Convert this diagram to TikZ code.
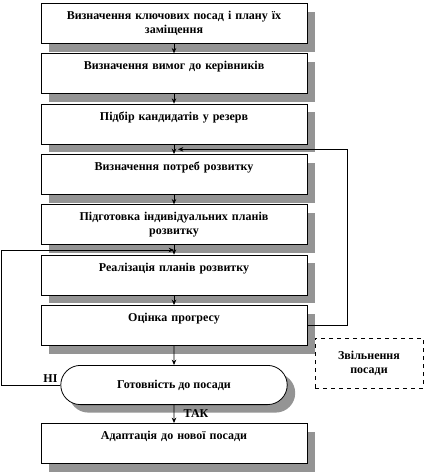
\documentclass[tikz,border=0pt]{standalone}
\usepackage{fontspec}
\setmainfont{Liberation Serif}
\usetikzlibrary{positioning,arrows.meta,calc,shapes.misc,shadows}
\tikzset{
  >={Stealth[length=4pt,width=3.4pt]},
  node distance=7pt,
  shad/.style={drop shadow={shadow xshift=6pt,shadow yshift=-6pt,
    fill=black!42,opacity=1}},
  txt/.style={font=\bfseries\fontsize{9}{10.5}\selectfont},
  stepbox/.style={draw=black,line width=0.75pt,fill=white,shad,txt,
    minimum width=199.5pt,text width=192pt,align=center,inner ysep=3pt,
    text height=9pt,text depth=15pt},
  decide/.style={rounded rectangle,draw=black,line width=0.6pt,fill=white,
    shad,txt,minimum width=176.5pt,minimum height=29.4pt},
  freebox/.style={draw=black,dashed,line width=0.6pt,txt,align=center,
    minimum width=81pt,minimum height=37.5pt},
  link/.style={->,line width=0.6pt},
  back/.style={->,line width=0.6pt},
  yn/.style={txt,inner sep=1pt},
}
\begin{document}
\begin{tikzpicture}[x=0.75pt,y=-0.75pt]
  \useasboundingbox (0,0) rectangle (426,475);
  \node[stepbox,anchor=north] (b1) at (174,3)
    {Визначення ключових посад і плану їх\\заміщення};
  \node[stepbox,below=of b1] (b2) {Визначення вимог до керівників};
  \node[stepbox,below=of b2] (b3) {Підбір кандидатів у резерв};
  \node[stepbox,below=of b3] (b4) {Визначення потреб розвитку};
  \node[stepbox,below=of b4] (b5)
    {Підготовка індивідуальних планів\\розвитку};
  \node[stepbox,below=of b5] (b6) {Реалізація планів розвитку};
  \node[stepbox,below=of b6] (b7) {Оцінка прогресу};
  \node[decide,below=14.25pt of b7] (ready) {Готовність до посади};
  \node[stepbox,below=13.5pt of ready] (b9) {Адаптація до нової посади};
  \node[freebox] (free) at (369,363) {Звільнення\\посади};
  % main chain
  \foreach \a/\b in {b1/b2,b2/b3,b3/b4,b4/b5,b5/b6,b6/b7,b7/ready,ready/b9}
    \draw[link] (\a) -- (\b);
  \coordinate (j1) at ($(b3.south)!0.5!(b4.north)$);
  \coordinate (j2) at ($(b5.south)!0.5!(b6.north)$);
  \coordinate (j3) at ($(ready.south)!0.5!(b9.north)$);
  \coordinate (lft) at (1.5,0);
  % loops back
  \draw[back] (b7.east) -- ++(30pt,0) |- ([xshift=3pt]j1);
  \draw[back] (ready.west) -- (lft |- ready.west) |- (j2);
  \node[yn,above left=1pt and 1pt of ready.west] (no) {НІ};
  \node[yn,right=6pt of j3] (yes) {ТАК};
\end{tikzpicture}
\end{document}
